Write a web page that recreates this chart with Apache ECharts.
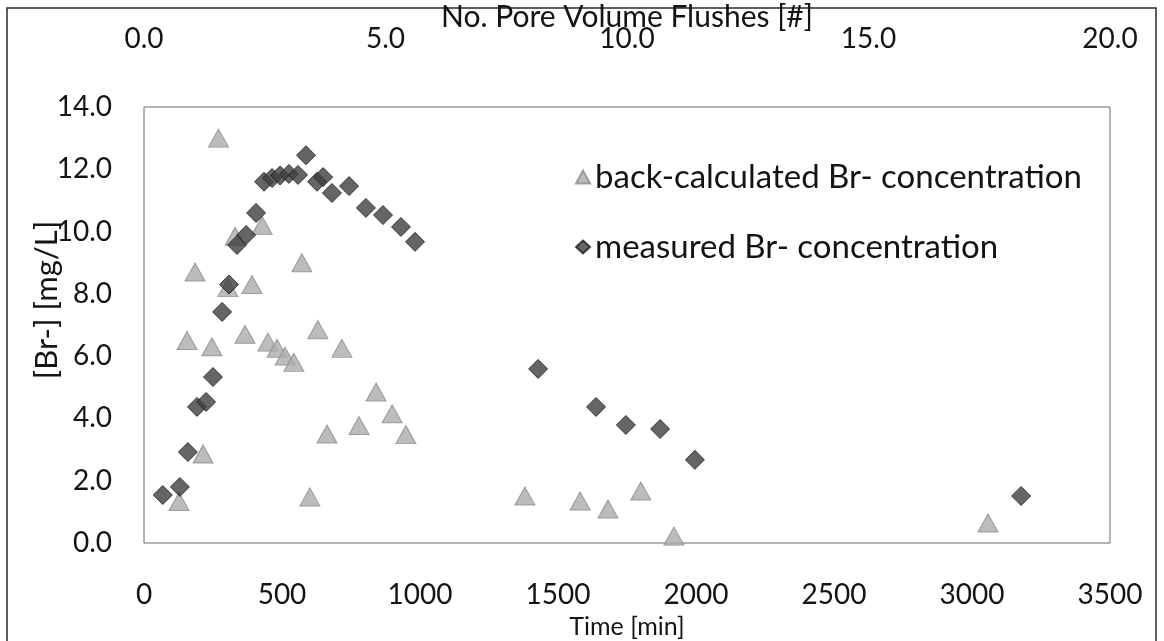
<!DOCTYPE html>
<html>
<head>
<meta charset="utf-8">
<script src="https://cdn.jsdelivr.net/npm/echarts@6/dist/echarts.min.js"></script>
<style>
  html, body { margin: 0; padding: 0; background: #fff; }
  #chart { width: 1164px; height: 641px; }
</style>
</head>
<body>
<div id="chart"></div>
<script>
// Bromide tracer breakthrough: time [min] vs concentration [mg/L]
const backCalcTime = [127, 156, 185, 214, 246, 270, 304, 330, 366, 391, 428, 449, 482, 511, 543, 572, 601, 630, 663, 717, 779, 841, 899, 949, 1380, 1580, 1681, 1800, 1920, 3058];
const backCalcConc = [1.33, 6.5, 8.7, 2.86, 6.3, 13.0, 8.2, 9.85, 6.7, 8.3, 10.2, 6.45, 6.25, 6.0, 5.8, 9.0, 1.48, 6.85, 3.5, 6.25, 3.77, 4.85, 4.15, 3.48, 1.51, 1.35, 1.09, 1.67, 0.22, 0.64];

const measuredTime = [68, 130, 159, 192, 225, 250, 283, 308, 337, 370, 406, 435, 464, 493, 525, 558, 587, 627, 649, 681, 743, 804, 866, 931, 982, 1428, 1638, 1746, 1870, 1996, 3178];
const measuredConc = [1.54, 1.8, 2.92, 4.37, 4.53, 5.33, 7.42, 8.3, 9.57, 9.89, 10.6, 11.6, 11.72, 11.8, 11.85, 11.82, 12.45, 11.6, 11.75, 11.24, 11.46, 10.76, 10.53, 10.15, 9.67, 5.59, 4.37, 3.79, 3.66, 2.67, 1.51];

const seriesNames = ['back-calculated Br- concentration', 'measured Br- concentration'];

const FONT = 'Lato';
const TXT = '#141414';

const pairs = (xs, ys) => xs.map((x, i) => [x, ys[i]]);

const chart = echarts.init(document.getElementById('chart'), null, { renderer: 'canvas' });

chart.setOption({
  backgroundColor: '#ffffff',
  animation: false,
  textStyle: { fontFamily: FONT, color: TXT },
  graphic: [{
    type: 'rect',
    shape: { x: 7, y: 8, width: 1149, height: 700 },
    style: { fill: 'none', stroke: '#2a2a2a', lineWidth: 1.5 },
    silent: true
  }],
  grid: {
    left: 144, right: 54, top: 107, bottom: 98,
    outerBoundsMode: 'none',
    show: true, borderColor: '#6a6a6a', borderWidth: 1,
    backgroundColor: 'transparent'
  },
  legend: {
    orient: 'vertical',
    left: 570, top: 155,
    itemGap: 36,
    itemWidth: 14, itemHeight: 13,
    textStyle: { fontFamily: FONT, fontSize: 33, color: TXT, lineHeight: 34 },
    data: seriesNames
  },
  xAxis: [{
    type: 'value',
    position: 'bottom',
    min: 0, max: 3500, interval: 500,
    name: 'Time [min]',
    nameLocation: 'middle', nameGap: 71,
    nameMoveOverlap: false,
    nameTextStyle: { fontFamily: FONT, fontSize: 25, color: TXT },
    axisLine: { show: false },
    axisTick: { show: false },
    splitLine: { show: false },
    axisLabel: { fontFamily: FONT, fontSize: 28, color: TXT, margin: 38, formatter: v => String(v) }
  }, {
    type: 'value',
    position: 'top',
    min: 0, max: 20, interval: 5,
    name: 'No. Pore Volume Flushes [#]',
    nameLocation: 'middle', nameGap: 75,
    nameMoveOverlap: false,
    nameTextStyle: { fontFamily: FONT, fontSize: 30, color: TXT },
    axisLine: { show: false },
    axisTick: { show: false },
    splitLine: { show: false },
    axisLabel: {
      fontFamily: FONT, fontSize: 28, color: TXT, margin: 54,
      formatter: v => v.toFixed(1)
    }
  }],
  yAxis: {
    type: 'value',
    min: 0, max: 14, interval: 2,
    name: '[Br-] [mg/L]',
    nameLocation: 'middle', nameGap: 82,
    nameMoveOverlap: false,
    nameTextStyle: { fontFamily: FONT, fontSize: 31, color: TXT, padding: [0, 0, 0, 50] },
    axisLine: { show: false },
    axisTick: { show: false },
    splitLine: { show: false },
    axisLabel: {
      fontFamily: FONT, fontSize: 28, color: TXT, margin: 32,
      formatter: v => v.toFixed(1)
    }
  },
  series: [{
    name: seriesNames[0],
    type: 'scatter',
    xAxisIndex: 0,
    symbol: 'triangle',
    symbolSize: [20, 18],
    itemStyle: { color: '#ababab', borderColor: '#8a8a8a', borderWidth: 1 },
    data: pairs(backCalcTime, backCalcConc),
    z: 2
  }, {
    name: seriesNames[1],
    type: 'scatter',
    xAxisIndex: 0,
    symbol: 'diamond',
    symbolSize: 19,
    itemStyle: { color: '#3e3e3e', borderColor: '#1c1c1c', borderWidth: 1 },
    data: pairs(measuredTime, measuredConc),
    z: 3
  }]
});
</script>
</body>
</html>
